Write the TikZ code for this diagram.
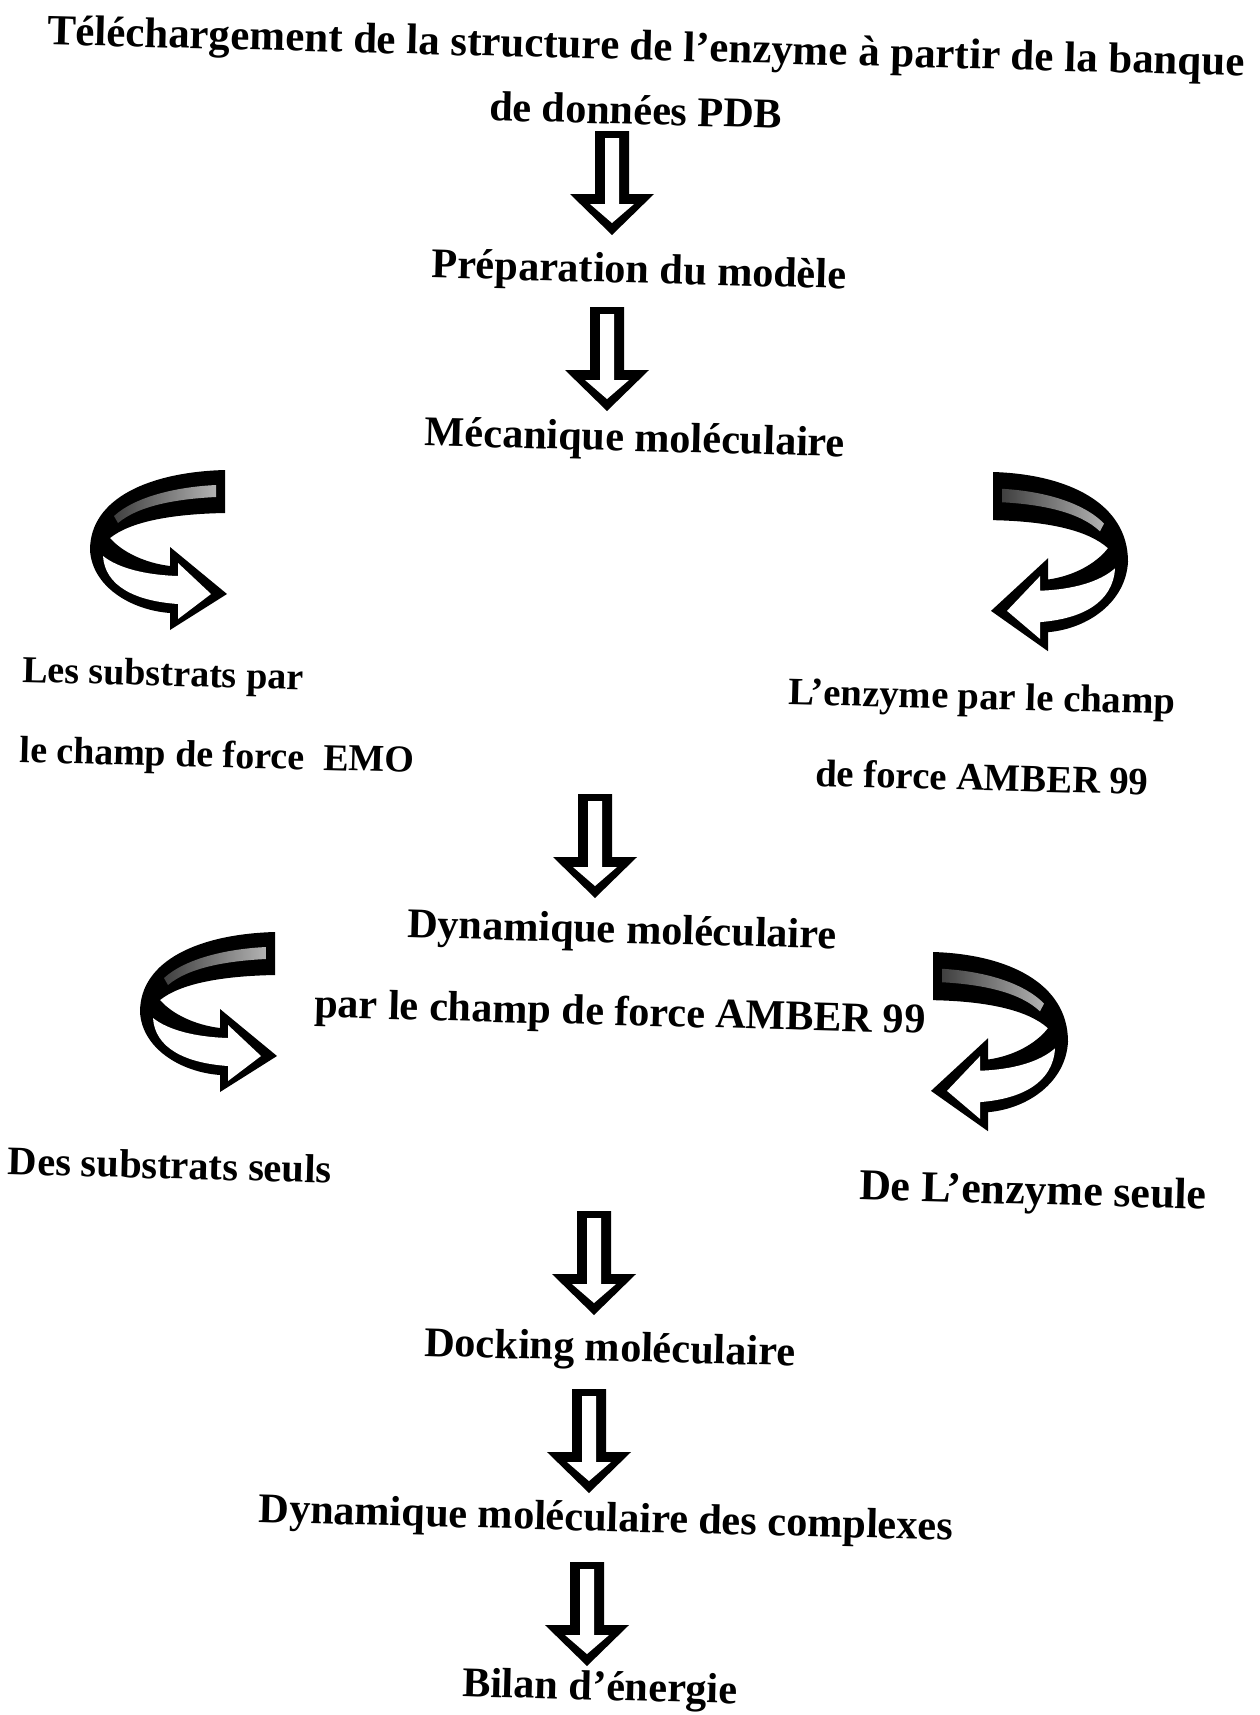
\documentclass[tikz,border=0pt]{standalone}
\usepackage{fontspec}
\setmainfont{Liberation Serif}
\tikzset{
  lbl/.style={font=\bfseries\fontsize{12}{14}\selectfont, inner sep=0pt, rotate=-1.5},
  sidelbl/.style={lbl, font=\bfseries\fontsize{10.8}{13}\selectfont},
  downarrow/.pic={
    \fill[black] (-17,0) -- (17,0) -- (17,63) -- (42,63) -- (0,104) -- (-42,63) -- (-17,63) -- cycle;
    \fill[white] (-7,7) -- (7,7) -- (7,73) -- (22,73) -- (0,92) -- (-22,73) -- (-7,73) -- cycle;
  },
  curvearrow/.pic={
    \fill[black] (135,0) .. controls (60,2) and (0,28) .. (0,80)
      .. controls (2,116) and (40,140) .. (80,143) -- (80,160) -- (137,124) -- (80,77) -- (80,96)
      .. controls (55,93) and (32,82) .. (20,68)
      .. controls (40,52) and (80,44) .. (135,43) -- cycle;
    \fill[white] (13,86) .. controls (28,98) and (55,105) .. (88,106) -- (88,93) -- (121,124) -- (88,149) -- (88,134)
      .. controls (45,131) and (15,116) .. (13,86) -- cycle;
    \shade[left color=black!75, right color=black!30] (24,46) .. controls (45,27) and (85,17) .. (126,15)
      -- (126,27) .. controls (85,29) and (48,36) .. (28,53) -- cycle;
  }
}
\begin{document}
\begin{tikzpicture}[x=0.01cm, y=-0.01cm]
\useasboundingbox (0,0) rectangle (1259,1715);
% texts
\node[lbl, font=\bfseries\fontsize{12.2}{14}\selectfont] (tele1) at (646,50) {Téléchargement de la structure de l’enzyme à partir de la banque};
\node[lbl] (tele2) at (636,110) {de données PDB};
\node[lbl] (prep) at (639,273) {Préparation du modèle};
\node[lbl] (meca) at (635,441) {Mécanique moléculaire};
\node[sidelbl, anchor=west] (sub1) at (22,673) {Les substrats par};
\node[sidelbl, anchor=west] (sub2) at (19,753) {le champ de force \ EMO};
\node[sidelbl, font=\bfseries\fontsize{11}{13}\selectfont] (enz1) at (982,700) {L’enzyme par le champ};
\node[sidelbl, font=\bfseries\fontsize{11}{13}\selectfont] (enz2) at (982,777) {de force AMBER 99};
\node[lbl] (dyn1) at (622,933) {Dynamique moléculaire};
\node[lbl] (dyn2) at (620,1015) {par le champ de force AMBER 99};
\node[lbl, font=\bfseries\fontsize{11.5}{14}\selectfont] (seul1) at (170,1165) {Des substrats seuls};
\node[lbl, font=\bfseries\fontsize{12.5}{14}\selectfont] (seul2) at (1033,1194) {De L’enzyme seule};
\node[lbl] (dock) at (610,1351) {Docking moléculaire};
\node[lbl] (cplx) at (606,1521) {Dynamique moléculaire des complexes};
\node[lbl] (bilan) at (600,1690) {Bilan d’énergie};
% block arrows
\pic at (612,131) {downarrow};
\pic at (607,307) {downarrow};
\pic at (595,794) {downarrow};
\pic at (594,1211) {downarrow};
\pic at (589,1389) {downarrow};
\pic at (587,1562) {downarrow};
% curved arrows
\pic at (90,470) {curvearrow};
\pic[xscale=-1, yscale=1.12] at (1128,472) {curvearrow};
\pic at (140,932) {curvearrow};
\pic[xscale=-1, yscale=1.12] at (1068,952) {curvearrow};
\end{tikzpicture}
\end{document}
